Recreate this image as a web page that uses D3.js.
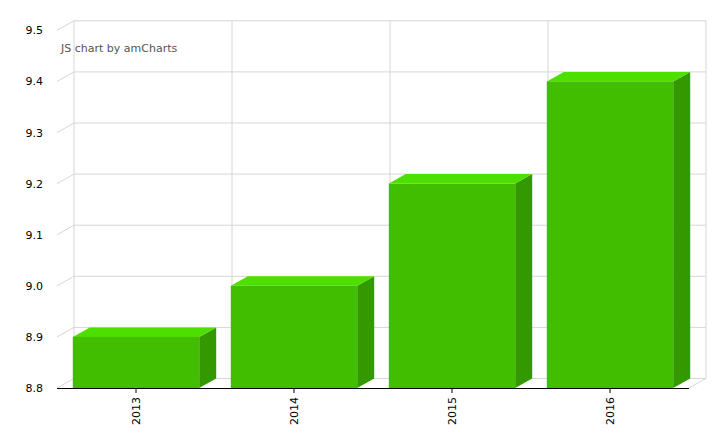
<!DOCTYPE html>
<html>
<head>
<meta charset="utf-8">
<script src="https://cdn.jsdelivr.net/npm/d3@7"></script>
<style>
  html, body { margin: 0; padding: 0; background: #fff; }
  svg { display: block; font-family: Verdana, "DejaVu Sans", sans-serif; }
</style>
</head>
<body>
<svg id="chart" width="720" height="448"></svg>
<script>
const categories = ["2013", "2014", "2015", "2016"];
const values = [8.9, 9.0, 9.2, 9.4];
const yTicks = [8.8, 8.9, 9.0, 9.1, 9.2, 9.3, 9.4, 9.5];
const yDomain = [8.8, 9.5];
const creditText = "JS chart by amCharts";

(function () {
const svg = d3.select("#chart");
const pLeft = 57, pRight = 689, pBottom = 388, pTop = 30.3;
const dx = 17, dy = -9.5;

const x = d3.scaleBand().domain(categories).range([pLeft, pRight])
  .paddingInner(0.2).paddingOuter(0.1);
const xLine = d3.scaleBand().domain(categories).range([pLeft, pRight]).padding(0);
const y = d3.scaleLinear().domain(yDomain).range([pBottom, pTop]);

const gridColor = "#d6d6d6";
const grid = svg.append("g").attr("stroke", gridColor).attr("stroke-width", 1).attr("fill", "none");

yTicks.forEach(t => {
  grid.append("line")
    .attr("x1", pLeft + dx).attr("x2", pRight + dx)
    .attr("y1", y(t) + dy).attr("y2", y(t) + dy);
  grid.append("line")
    .attr("x1", pLeft).attr("y1", y(t))
    .attr("x2", pLeft + dx).attr("y2", y(t) + dy);
});
categories.forEach(c => {
  grid.append("line")
    .attr("x1", xLine(c) + dx).attr("x2", xLine(c) + dx)
    .attr("y1", y(yDomain[1]) + dy).attr("y2", y(yDomain[0]) + dy);
});
grid.append("line")
  .attr("x1", pRight + dx).attr("x2", pRight + dx)
  .attr("y1", y(yDomain[1]) + dy).attr("y2", y(yDomain[0]) + dy);
grid.append("line")
  .attr("x1", pRight).attr("y1", y(yDomain[0]))
  .attr("x2", pRight + dx).attr("y2", y(yDomain[0]) + dy);

svg.append("text")
  .attr("x", 61).attr("y", 48).attr("dy", "0.35em")
  .attr("font-size", 11).attr("fill", "#555")
  .text(creditText);

const colFront = "#41be00", colTop = "#4ddf00", colSide = "#349900";
const bars = svg.append("g");
categories.forEach((c, i) => {
  const x0 = x(c), x1 = x(c) + x.bandwidth();
  const yv = y(values[i]), y0 = y(yDomain[0]);
  const g = bars.append("g");
  g.append("path")
    .attr("d", `M${x1},${y0}L${x1 + dx},${y0 + dy}L${x1 + dx},${yv + dy}L${x1},${yv}Z`)
    .attr("fill", colSide);
  g.append("path")
    .attr("d", `M${x0},${yv}L${x0 + dx},${yv + dy}L${x1 + dx},${yv + dy}L${x1},${yv}Z`)
    .attr("fill", colTop);
  g.append("rect")
    .attr("x", x0).attr("y", yv)
    .attr("width", x.bandwidth()).attr("height", y0 - yv)
    .attr("fill", colFront);
});

const xAxis = d3.axisBottom(xLine).tickSize(5).tickSizeOuter(0);
const xg = svg.append("g").attr("transform", `translate(0,${pBottom})`).call(xAxis);
xg.select(".domain").attr("stroke", "#000").attr("d", `M${pLeft},0.5H${pRight}`);
xg.selectAll(".tick line").attr("stroke", "#000");
xg.selectAll(".tick text")
  .attr("font-size", 11).attr("font-family", "Verdana, 'DejaVu Sans', sans-serif")
  .attr("fill", "#000")
  .attr("text-anchor", "end")
  .attr("transform", "rotate(-90)")
  .attr("x", -9).attr("y", 0).attr("dy", "0.35em");

const yAxis = d3.axisLeft(y).tickValues(yTicks).tickFormat(d3.format(".1f")).tickSize(0);
const yg = svg.append("g").attr("transform", `translate(${pLeft - 14},0)`).call(yAxis);
yg.select(".domain").remove();
yg.selectAll(".tick text")
  .attr("font-size", 11).attr("font-family", "Verdana, 'DejaVu Sans', sans-serif")
  .attr("fill", "#000").attr("x", 0);
})();
</script>
</body>
</html>
